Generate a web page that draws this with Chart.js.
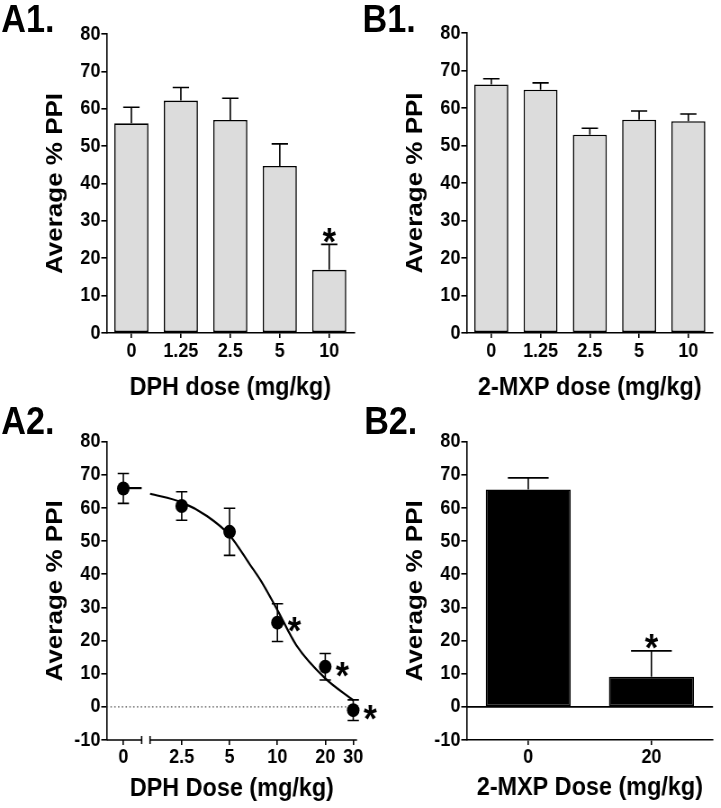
<!DOCTYPE html>
<html><head><meta charset="utf-8">
<script src="https://cdn.jsdelivr.net/npm/chart.js@4.4.1/dist/chart.umd.min.js"></script>
<style>
html,body{margin:0;padding:0;background:#fff;overflow:hidden;}
#fig{position:relative;width:801px;height:808px;transform:scaleX(0.9);transform-origin:0 0;}
#fig canvas{position:absolute;}
.lbl{position:absolute;font-family:'Liberation Sans',Arial,sans-serif;font-weight:bold;font-size:38px;line-height:1;color:#000;white-space:nowrap;z-index:5;}
</style></head><body>
<div id="fig">
<canvas id="cA1" width="400" height="410" style="left:0;top:0;width:400px;height:410px"></canvas>
<canvas id="cB1" width="401" height="410" style="left:400px;top:0;width:401px;height:410px"></canvas>
<canvas id="cA2" width="433" height="408" style="left:0;top:400px;width:433px;height:408px"></canvas>
<canvas id="cB2" width="401" height="408" style="left:400px;top:400px;width:401px;height:408px"></canvas>
<div class="lbl" style="left:1.5px;top:0">A1.</div>
<div class="lbl" style="left:402.8px;top:0">B1.</div>
<div class="lbl" style="left:1.5px;top:401.7px">A2.</div>
<div class="lbl" style="left:404.6px;top:401.7px">B2.</div>
</div>
<script>
// ---------- data ----------
const a1Doses = ['0', '1.25', '2.5', '5', '10'];
const a1Means = [56.1, 62.2, 57.0, 44.7, 16.9];
const a1Sem   = [4.3, 3.5, 5.8, 5.9, 6.8];
const a1Sig   = [false, false, false, false, true];

const b1Doses = ['0', '1.25', '2.5', '5', '10'];
const b1Means = [66.3, 64.9, 52.9, 56.9, 56.5];
const b1Sem   = [1.5, 1.8, 1.7, 2.3, 1.9];
const b1Sig   = [false, false, false, false, false];

const a2ZeroDose = [0];
const a2ZeroMean = [65.9];
const a2ZeroSem  = [4.5];
const a2Doses = [2.5, 5, 10, 20, 30];
const a2Means = [60.6, 52.8, 25.4, 12.1, -1.0];
const a2Sem   = [4.3, 7.1, 5.7, 4.0, 3.1];
const a2Sig   = [false, false, true, true, true];
const a2FitX  = [1.58, 2.5, 3.6, 5, 6.7, 8, 10, 13.2, 20, 30];
const a2FitY  = [64.3, 61.7, 57.6, 51.8, 43.0, 37.5, 29.2, 18.5, 8.6, 2.0];
const a2FitZeroX = [0, 1.1];
const a2FitZeroY = [66, 66];
const a2TickValues = [2.5, 5, 10, 20, 30];

const b2Doses = ['0', '20'];
const b2Means = [65.6, 9.1];
const b2Sem   = [3.5, 7.8];
const b2Sig   = [false, true];

// ---------- styling ----------
const FONT = "'Liberation Sans', Arial, Helvetica, sans-serif";
Chart.defaults.font.family = FONT;
Chart.defaults.color = '#000';
const TICK_FONT = {size: 20, weight: 'bold'};
const TITLE_FONT = {size: 26, weight: 'bold'};
const LW = 1.6;
const STAR_FS = 38;

function drawStar(ctx, x, cy) {
  ctx.save();
  ctx.fillStyle = '#000';
  ctx.font = 'bold ' + STAR_FS + 'px ' + FONT;
  ctx.textAlign = 'center';
  ctx.textBaseline = 'alphabetic';
  ctx.fillText('*', x, cy + 0.573 * STAR_FS);
  ctx.restore();
}

function errorBarPlugin(list) {
  return {
    id: 'errbars',
    afterDatasetsDraw(chart) {
      const ctx = chart.ctx;
      ctx.save();
      ctx.strokeStyle = '#000';
      ctx.lineWidth = LW;
      list.forEach(cfg => {
        const meta = chart.getDatasetMeta(cfg.datasetIndex);
        const ys = chart.scales[meta.yAxisID];
        const data = chart.data.datasets[cfg.datasetIndex].data;
        meta.data.forEach((el, i) => {
          const d = data[i];
          const v = (typeof d === 'object') ? d.y : d;
          const e = cfg.sem[i];
          const yTop = ys.getPixelForValue(v + e);
          const yBot = cfg.both ? ys.getPixelForValue(v - e) : el.y;
          const half = cfg.capHalf != null ? cfg.capHalf : el.width * 0.24;
          ctx.beginPath();
          ctx.moveTo(el.x, yBot); ctx.lineTo(el.x, yTop);
          ctx.moveTo(el.x - half, yTop); ctx.lineTo(el.x + half, yTop);
          if (cfg.both) { ctx.moveTo(el.x - half, yBot); ctx.lineTo(el.x + half, yBot); }
          ctx.stroke();
          if (cfg.sig && cfg.sig[i]) {
            if (cfg.sigRight) drawStar(ctx, el.x + 19, el.y);
            else drawStar(ctx, el.x, yTop - 11.6);
          }
        });
      });
      ctx.restore();
    }
  };
}

function zeroLinePlugin(dashed) {
  return {
    id: 'zeroline',
    beforeDatasetsDraw(chart) {
      const ctx = chart.ctx, a = chart.chartArea, y = chart.scales.y.getPixelForValue(0);
      ctx.save();
      ctx.beginPath();
      if (dashed) { ctx.setLineDash([1.6, 2.6]); ctx.strokeStyle = '#555'; ctx.lineWidth = 1.2; }
      else { ctx.strokeStyle = '#000'; ctx.lineWidth = LW; }
      ctx.moveTo(a.left, y); ctx.lineTo(a.right, y);
      ctx.stroke();
      ctx.restore();
    }
  };
}

function yScale(min, max) {
  return {
    type: 'linear', position: 'left', min: min, max: max,
    ticks: {stepSize: 10, font: TICK_FONT, color: '#000', padding: 1},
    grid: {drawOnChartArea: false, drawTicks: true, tickLength: 6, tickColor: '#000', tickWidth: LW, color: '#000', lineWidth: LW},
    border: {display: true, color: '#000', width: LW},
    title: {display: true, text: 'Average % PPI', font: TITLE_FONT, color: '#000', padding: 0},
    afterFit(s) { s.width = 72.1; }
  };
}

function xCat(title, height, pad) {
  return {
    type: 'category', position: 'bottom',
    ticks: {font: TICK_FONT, color: '#000', padding: pad, autoSkip: false, maxRotation: 0},
    grid: {offset: false, drawOnChartArea: false, tickLength: 5, tickColor: '#000', tickWidth: LW, color: '#000', lineWidth: LW},
    border: {display: true, color: '#000', width: LW},
    title: {display: true, text: title, font: TITLE_FONT, color: '#000', padding: 0},
    afterFit(s) { s.height = height; }
  };
}

const common = {responsive: false, animation: false, devicePixelRatio: 1,
  plugins: {legend: {display: false}, tooltip: {enabled: false}}};

// ---------- A1 ----------
new Chart(document.getElementById('cA1'), {
  type: 'bar',
  data: {labels: a1Doses, datasets: [{data: a1Means, backgroundColor: '#dcdcdc', borderColor: '#000',
    borderWidth: LW, borderSkipped: false, categoryPercentage: 1, barPercentage: 0.69}]},
  options: Object.assign({}, common, {
    layout: {padding: {left: 46.4, top: 34, right: 6.7, bottom: 7}},
    scales: {x: xCat('DPH dose (mg/kg)', 70, 1.7), y: yScale(0, 80)}
  }),
  plugins: [errorBarPlugin([{datasetIndex: 0, sem: a1Sem, sig: a1Sig}])]
});

// ---------- B1 ----------
new Chart(document.getElementById('cB1'), {
  type: 'bar',
  data: {labels: b1Doses, datasets: [{data: b1Means, backgroundColor: '#dcdcdc', borderColor: '#000',
    borderWidth: LW, borderSkipped: false, categoryPercentage: 1, barPercentage: 0.69}]},
  options: Object.assign({}, common, {
    layout: {padding: {left: 46.4, top: 33, right: 8.8, bottom: 7}},
    scales: {x: xCat('2-MXP dose (mg/kg)', 70, 1.7), y: yScale(0, 80)}
  }),
  plugins: [errorBarPlugin([{datasetIndex: 0, sem: b1Sem, sig: b1Sig}])]
});

// ---------- A2 ----------
const axisBreakPlugin = {
  id: 'axisbreak',
  beforeDatasetsDraw(chart) {
    const ctx = chart.ctx, a = chart.chartArea;
    const x0 = chart.scales.x0, xl = chart.scales.xlog;
    const y = a.bottom;
    const leftEnd = x0.getPixelForValue(1.1);
    const rightStart = xl.getPixelForValue(1.58);
    ctx.save();
    ctx.strokeStyle = '#000'; ctx.lineWidth = LW;
    ctx.beginPath();
    ctx.moveTo(a.left, y); ctx.lineTo(leftEnd, y);
    ctx.moveTo(leftEnd, y - 4); ctx.lineTo(leftEnd, y + 4);
    ctx.moveTo(rightStart, y - 4); ctx.lineTo(rightStart, y + 4);
    ctx.moveTo(rightStart, y); ctx.lineTo(a.right, y);
    ctx.stroke();
    ctx.restore();
  }
};

function xLinearPart(extra) {
  return Object.assign({
    position: 'bottom', stack: 'xs', bounds: 'data',
    ticks: {font: TICK_FONT, color: '#000', padding: 0, autoSkip: false, maxRotation: 0, callback: v => String(v)},
    grid: {drawOnChartArea: false, tickLength: 5, tickColor: '#000', tickWidth: LW, color: '#000', lineWidth: LW},
    border: {display: false},
    afterFit(s) { s.height = 32; }
  }, extra);
}

new Chart(document.getElementById('cA2'), {
  type: 'scatter',
  data: {datasets: [
    {data: a2FitX.map((x, i) => ({x: x, y: a2FitY[i]})), xAxisID: 'xlog', showLine: true, borderColor: '#000',
      borderWidth: 2.2, pointRadius: 0, cubicInterpolationMode: 'monotone', fill: false, clip: false},
    {data: a2FitZeroX.map((x, i) => ({x: x, y: a2FitZeroY[i]})), xAxisID: 'x0', showLine: true, borderColor: '#000',
      borderWidth: 2.2, pointRadius: 0, fill: false, clip: false},
    {data: a2Doses.map((x, i) => ({x: x, y: a2Means[i]})), xAxisID: 'xlog', showLine: false,
      pointRadius: 7, backgroundColor: '#000', borderColor: '#000', borderWidth: 0, clip: false},
    {data: a2ZeroDose.map((x, i) => ({x: x, y: a2ZeroMean[i]})), xAxisID: 'x0', showLine: false,
      pointRadius: 7, backgroundColor: '#000', borderColor: '#000', borderWidth: 0, clip: false}
  ]},
  options: Object.assign({}, common, {
    layout: {padding: {left: 46.4, top: 41.7, right: 36.3, bottom: 3.4}},
    plugins: {legend: {display: false}, tooltip: {enabled: false},
      title: {display: true, text: 'DPH Dose (mg/kg)', position: 'bottom', fullSize: false,
        font: TITLE_FONT, color: '#000', padding: {top: 1.4, bottom: 0}}},
    scales: {
      x0: xLinearPart({type: 'linear', stackWeight: 43.7, min: -1, max: 1.36,
        afterBuildTicks(s) { s.ticks = a2ZeroDose.map(v => ({value: v})); }}),
      xlog: xLinearPart({type: 'logarithmic', stackWeight: 234.5, min: 1.49, max: 31.7,
        afterBuildTicks(s) { s.ticks = a2TickValues.map(v => ({value: v})); }}),
      y: yScale(-10, 80)
    }
  }),
  plugins: [zeroLinePlugin(true), axisBreakPlugin,
    errorBarPlugin([
      {datasetIndex: 2, sem: a2Sem, both: true, capHalf: 6.3, sig: a2Sig, sigRight: true},
      {datasetIndex: 3, sem: a2ZeroSem, both: true, capHalf: 6.3}
    ])]
});

// ---------- B2 ----------
new Chart(document.getElementById('cB2'), {
  type: 'bar',
  data: {labels: b2Doses, datasets: [{data: b2Means, backgroundColor: '#000', borderColor: '#000',
    borderWidth: LW, borderSkipped: false, categoryPercentage: 1, barPercentage: 0.69}]},
  options: Object.assign({}, common, {
    layout: {padding: {left: 46.4, top: 41.7, right: 8.8, bottom: 4.4}},
    scales: {x: xCat('2-MXP Dose (mg/kg)', 63.6, 0), y: yScale(-10, 80)}
  }),
  plugins: [zeroLinePlugin(false), errorBarPlugin([{datasetIndex: 0, sem: b2Sem, sig: b2Sig}])]
});
</script>
</body></html>
